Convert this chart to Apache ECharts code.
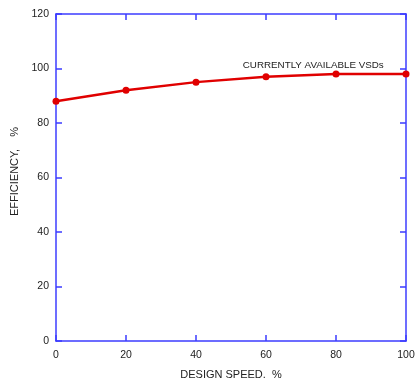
<!DOCTYPE html>
<html><head><meta charset="utf-8">
<script src="https://cdn.jsdelivr.net/npm/echarts@6/dist/echarts.min.js"></script>
<style>html,body{margin:0;padding:0;background:#fff}#c{width:417px;height:379px}</style>
</head><body><div id="c"></div>
<script>
const speeds = [0, 20, 40, 60, 80, 100];
const efficiency = [88, 92, 95, 97, 98, 98];
const xTicks = [0, 20, 40, 60, 80, 100];
const yTicks = [0, 20, 40, 60, 80, 100, 120];
const annotation = 'CURRENTLY AVAILABLE VSDs';
const axisColor = '#3c3cff';
const font = 'Liberation Sans, Arial, sans-serif';
const chart = echarts.init(document.getElementById('c'));
const axisCommon = {
  axisLine: {show: true, onZero: false, lineStyle: {color: axisColor, width: 1.5}},
  axisTick: {show: true, inside: true, length: 6, lineStyle: {color: axisColor, width: 1.5}},
  splitLine: {show: false}
};
chart.setOption({
  animation: false,
  grid: {left: 56, right: 11, top: 14, bottom: 38, containLabel: false, outerBoundsMode: 'none'},
  xAxis: [
    Object.assign({type: 'value', min: 0, max: 100, interval: 20, position: 'bottom',
      name: 'DESIGN SPEED.  %', nameLocation: 'middle', nameGap: 28,
      nameTextStyle: {fontFamily: font, fontSize: 11, color: '#222'},
      axisLabel: {fontFamily: font, fontSize: 10.5, color: '#222', margin: 9}}, axisCommon),
    Object.assign({type: 'value', min: 0, max: 100, interval: 20, position: 'top', axisLabel: {show: false}}, axisCommon)
  ],
  yAxis: [
    Object.assign({type: 'value', min: 0, max: 120, interval: 20, position: 'left',
      name: 'EFFICIENCY,    %', nameLocation: 'middle', nameGap: 36,
      nameTextStyle: {fontFamily: font, fontSize: 11, color: '#222', padding: [0, 0, 0, 12]},
      axisLabel: {fontFamily: font, fontSize: 10.5, color: '#222', margin: 7}}, axisCommon),
    Object.assign({type: 'value', min: 0, max: 120, interval: 20, position: 'right', axisLabel: {show: false}}, axisCommon)
  ],
  series: [{
    type: 'line',
    data: speeds.map((s, i) => [s, efficiency[i]]),
    symbol: 'circle', symbolSize: 7,
    lineStyle: {color: '#e00000', width: 2.5},
    itemStyle: {color: '#e00000'},
    markPoint: {
      symbol: 'circle', symbolSize: 0,
      data: [{coord: [73.5, 101.2], value: annotation}],
      label: {show: true, position: 'inside', formatter: annotation, fontFamily: font, fontSize: 9.8, color: '#222'}
    }
  }]
});
</script></body></html>
